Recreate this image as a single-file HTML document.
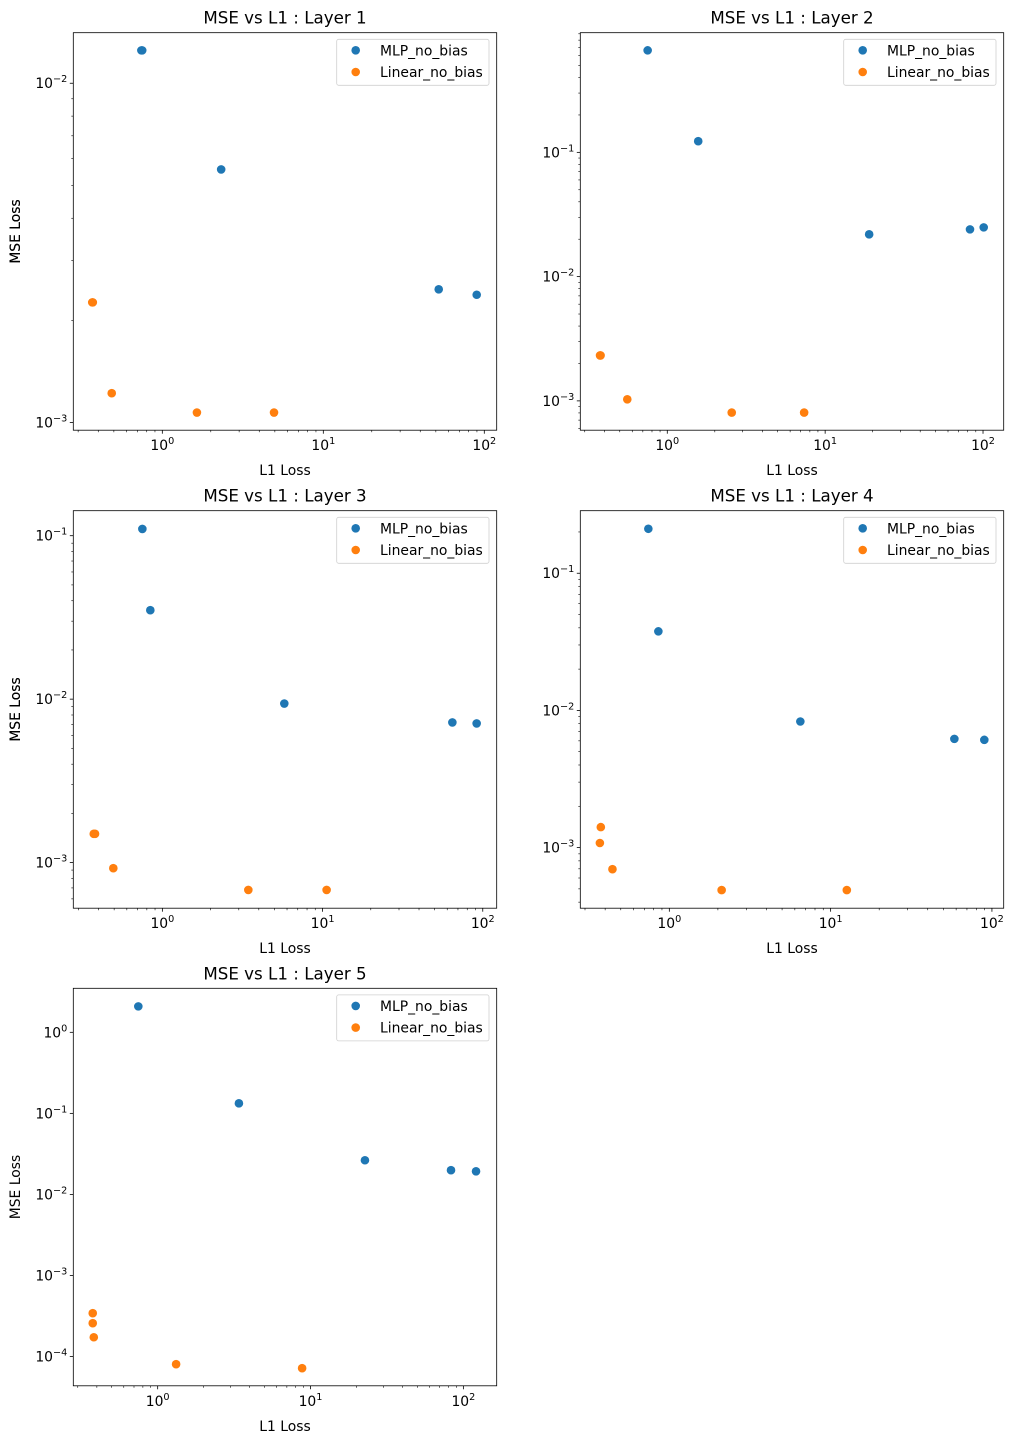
<!DOCTYPE html>
<html><head><meta charset="utf-8">
<style>
html,body{margin:0;padding:0;background:#fff;}
svg{display:block;font-family:"DejaVu Sans","Liberation Sans",sans-serif;}
</style></head>
<body>
<svg id="fig" width="1014" height="1444" viewBox="0 0 1014 1444" xmlns="http://www.w3.org/2000/svg"></svg>
<script>
// ---- data (L1 loss, MSE loss) per layer ----
const layerTitles = ["MSE vs L1 : Layer 1","MSE vs L1 : Layer 2","MSE vs L1 : Layer 3","MSE vs L1 : Layer 4","MSE vs L1 : Layer 5"];
const seriesNames = ["MLP_no_bias","Linear_no_bias"];
const mlpL1 = [
  [0.741, 0.75, 2.32, 52.1, 89.7],
  [0.751, 1.57, 19.0, 82.7, 101],
  [0.75, 0.841, 5.77, 64.6, 91.6],
  [0.741, 0.855, 6.49, 58.5, 89.7],
  [0.747, 3.40, 22.7, 83, 121]
];
const mlpMSE = [
  [0.0125, 0.0125, 0.00557, 0.00247, 0.00238],
  [0.662, 0.123, 0.0219, 0.024, 0.0249],
  [0.110, 0.035, 0.0094, 0.0072, 0.0071],
  [0.211, 0.0377, 0.0083, 0.0062, 0.0061],
  [2.09, 0.133, 0.0264, 0.0199, 0.0193]
];
const linL1 = [
  [0.367, 0.37, 0.485, 1.64, 4.94],
  [0.375, 0.378, 0.558, 2.56, 7.36],
  [0.373, 0.38, 0.494, 3.44, 10.6],
  [0.376, 0.371, 0.444, 2.11, 12.6],
  [0.376, 0.376, 0.382, 1.32, 8.81]
];
const linMSE = [
  [0.00226, 0.00226, 0.00122, 0.00107, 0.00107],
  [0.00232, 0.00232, 0.00103, 0.000805, 0.000805],
  [0.0015, 0.0015, 0.000924, 0.00068, 0.00068],
  [0.00141, 0.00108, 0.000696, 0.00049, 0.00049],
  [0.000343, 0.000258, 0.000173, 0.0000805, 0.0000719]
];
const xTickExps = [0, 1, 2];
const yTickExps = [[-3, -2], [-3, -2, -1], [-3, -2, -1], [-3, -2, -1], [-4, -3, -2, -1, 0]];
const colors = ["#1f77b4", "#ff7f0e"];
// axis limits (log10)
const xLim = [[-0.553, 2.077], [-0.551, 2.131], [-0.556, 2.087], [-0.552, 2.073], [-0.552, 2.218]];
const yLim = [[-3.0227, -1.851], [-3.236, -0.037], [-3.279, -0.847], [-3.442, -0.544], [-4.361, 0.543]];
const boxes = [[73.3, 32.7], [580.3, 32.7], [73.3, 510.7], [580.3, 510.7], [73.3, 988.3]];
const AW = 423.4, AH = 397.5;

const NS = "http://www.w3.org/2000/svg";
const fig = document.getElementById("fig");
function mk(tag, attrs, parent) {
  const e = document.createElementNS(NS, tag);
  for (const k in attrs) e.setAttribute(k, attrs[k]);
  parent.appendChild(e);
  return e;
}
function expLabel(parent, x, y, exp, anchor, name) {
  const t = mk("text", {x: x, y: y, "font-size": "13.9", "text-anchor": anchor, fill: "#000"}, parent);
  
  
  const a = mk("tspan", {}, t); a.textContent = "10";
  const b = mk("tspan", {dy: "-6", "font-size": "9.7"}, t);
  b.textContent = exp < 0 ? "\u2212" + (-exp) : String(exp);
  return t;
}

for (let p = 0; p < 5; p++) {
  const [L, T] = boxes[p];
  const R = L + AW, B = T + AH;
  const sx = v => L + (Math.log10(v) - xLim[p][0]) / (xLim[p][1] - xLim[p][0]) * AW;
  const sy = v => B - (Math.log10(v) - yLim[p][0]) / (yLim[p][1] - yLim[p][0]) * AH;
  const g = mk("g", {}, fig);
  
  

  const title = mk("text", {x: L + AW / 2, y: T - 9, "font-size": "16.7", "text-anchor": "middle"}, g);
  title.textContent = layerTitles[p];
  
  

  // x ticks
  for (let e = Math.floor(xLim[p][0]); e <= Math.ceil(xLim[p][1]); e++) {
    for (let m = 1; m < 10; m++) {
      const v = m * Math.pow(10, e);
      const lv = Math.log10(v);
      if (lv < xLim[p][0] || lv > xLim[p][1]) continue;
      const x = sx(v);
      const len = m === 1 ? 3.5 : 2;
      const tk = mk("line", {x1: x, y1: B, x2: x, y2: B + len, stroke: "#000", "stroke-width": m === 1 ? 0.8 : 0.6}, g);
      
      
    }
  }
  xTickExps.forEach(e => {
    expLabel(g, sx(Math.pow(10, e)), B + 20, e, "middle", 'x-tick-label');
  });
  // y ticks
  const manyDec = (yLim[p][1] - yLim[p][0]) > 4;
  for (let e = Math.floor(yLim[p][0]); e <= Math.ceil(yLim[p][1]); e++) {
    for (let m = 1; m < 10; m++) {
      if (manyDec && m !== 1) continue;
      const v = m * Math.pow(10, e);
      const lv = Math.log10(v);
      if (lv < yLim[p][0] || lv > yLim[p][1]) continue;
      const y = sy(v);
      const len = m === 1 ? 3.5 : 2;
      const tk = mk("line", {x1: L - len, y1: y, x2: L, y2: y, stroke: "#000", "stroke-width": m === 1 ? 0.8 : 0.6}, g);
      
      
    }
  }
  yTickExps[p].forEach(e => {
    expLabel(g, L - 6, sy(Math.pow(10, e)) + 5, e, "end", 'y-tick-label');
  });

  const xl = mk("text", {x: L + AW / 2, y: B + 45, "font-size": "13.9", "text-anchor": "middle"}, g);
  xl.textContent = "L1 Loss";
  
  
  const yl = mk("text", {x: 0, y: 0, "font-size": "13.9", "text-anchor": "middle", transform: "translate(20," + (T + AH / 2) + ") rotate(-90)"}, g);
  yl.textContent = "MSE Loss";
  
  

  // points
  const sets = [[mlpL1[p], mlpMSE[p]], [linL1[p], linMSE[p]]];
  sets.forEach((s, si) => {
    for (let i = 0; i < s[0].length; i++) {
      const c = mk("circle", {cx: sx(s[0][i]), cy: sy(s[1][i]), r: 4.3, fill: colors[si]}, g);
      
      
    }
  });

  const frame = mk("rect", {x: L, y: T, width: AW, height: AH, fill: "none", stroke: "#000", "stroke-width": 0.8}, g);
  
  

  // legend
  const lg = mk("g", {}, g);
  
  
  mk("rect", {x: R - 160, y: T + 6.6, width: 152.3, height: 46, rx: 2, fill: "#fff", "fill-opacity": 0.8, stroke: "#d0d0d0", "stroke-width": 0.8}, lg);
  seriesNames.forEach((n, i) => {
    const ent = mk("g", {}, lg);
    
    
    mk("circle", {cx: R - 141, cy: T + 17.6 + i * 21.7, r: 4.3, fill: colors[i]}, ent);
    const t = mk("text", {x: R - 116.7, y: T + 22.6 + i * 21.7, "font-size": "13.9"}, ent);
    t.textContent = n;
  });
}
</script>
</body></html>
